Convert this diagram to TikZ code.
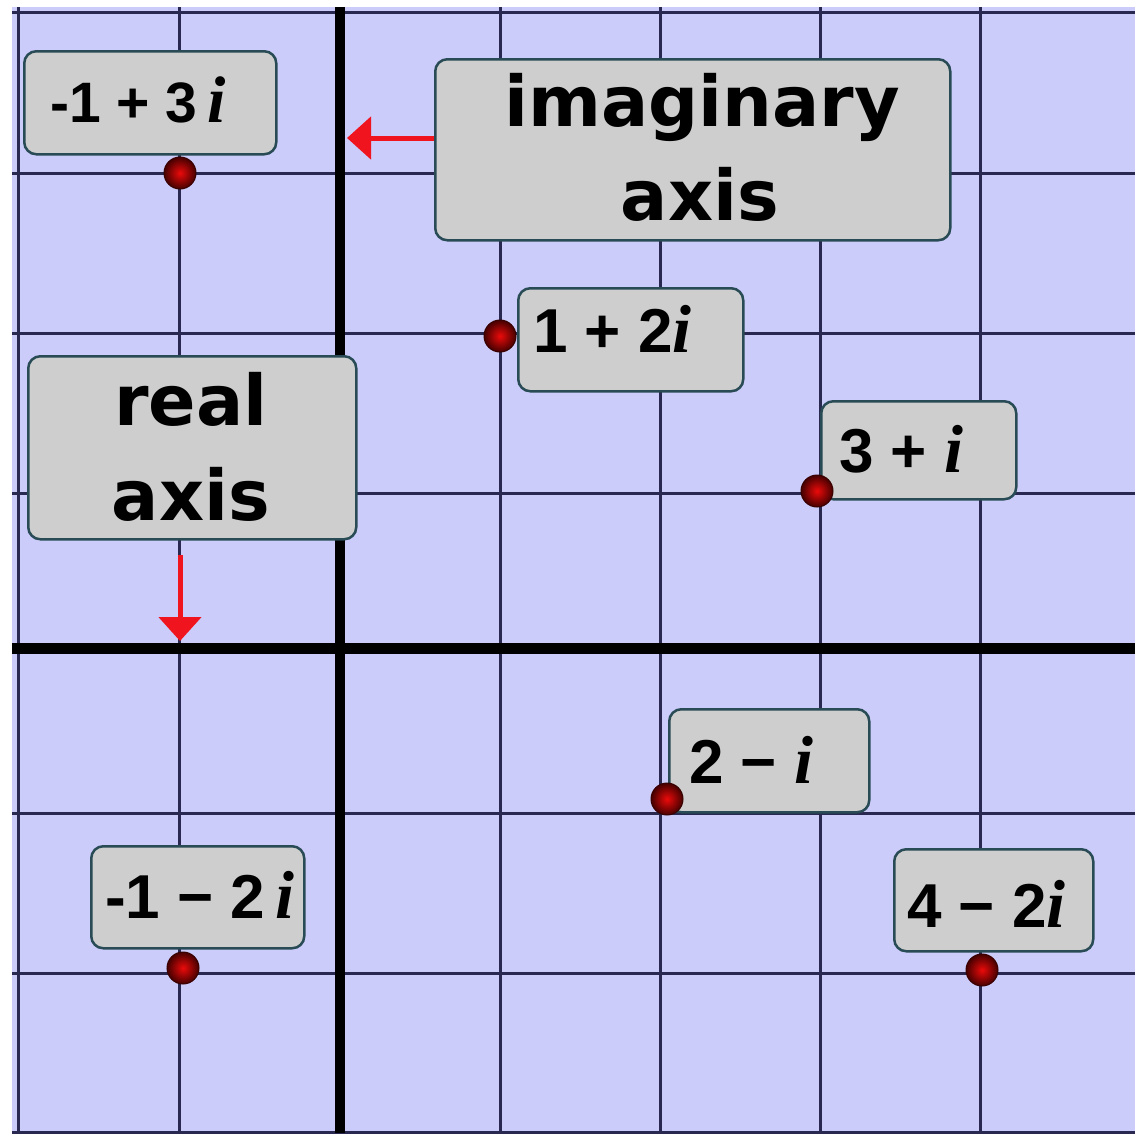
\documentclass[tikz,border=0pt]{standalone}
\usepackage{fontspec}
\usetikzlibrary{arrows.meta,calc}
\newfontfamily\numfont{Liberation Sans}
\newfontfamily\ivarfont{Liberation Serif}
\newfontfamily\axfont{DejaVu Sans}
\definecolor{bgc}{RGB}{204,204,250}
\definecolor{gridc}{RGB}{40,40,80}
\definecolor{boxfill}{RGB}{205,206,205}
\definecolor{boxdraw}{RGB}{40,75,85}
\definecolor{arrred}{RGB}{240,20,30}
\definecolor{dotin}{RGB}{235,10,10}
\definecolor{dotout}{RGB}{70,0,0}
\newcommand\ivar[1]{{\ivarfont\bfseries\itshape\fontsize{#1}{#1}\selectfont i}}
\tikzset{
  gridline/.style={draw=gridc, line width=3pt},
  axisline/.style={draw=black, line width=10pt},
  cbox/.style={draw=boxdraw, fill=boxfill, line width=2.5pt, rounded corners=12pt, inner sep=0pt, anchor=north west},
  lblbig/.style={inner sep=0pt, anchor=base west, font=\numfont\bfseries\fontsize{62}{70}\selectfont},
  lblsmall/.style={inner sep=0pt, anchor=base west, font=\numfont\bfseries\fontsize{57}{64}\selectfont},
  axtext/.style={inner sep=0pt, anchor=base, font=\axfont\bfseries\fontsize{70}{80}\selectfont},
  cdot/.style={circle, minimum size=32pt, inner sep=0pt, shading=radial, inner color=dotin, outer color=dotout, draw=dotout!80!black, line width=1pt},
  redarrow/.style={draw=arrred, line width=5pt, -{Triangle[width=42pt,length=24pt]}}
}
\begin{document}
\begin{tikzpicture}[x=1pt,y=-1pt]
\useasboundingbox (0,0) rectangle (1135,1133);
\fill[bgc] (12,7) rectangle (1135,1133);
% grid
\foreach \gx in {18,179,500,660,820,980} \draw[gridline] (\gx,7) -- (\gx,1133);
\foreach \gy in {12,173,333,493,813,973,1132} \draw[gridline] (12,\gy) -- (1135,\gy);
% axes
\draw[axisline] (340,7) -- (340,1133);
\draw[axisline, line width=11pt] (12,648) -- (1135,648);
% boxes
\node[cbox, minimum width=252pt, minimum height=103pt] (b1) at (23,50) {};
\node[cbox, minimum width=515pt, minimum height=181pt] (imag) at (434,58) {};
\node[cbox, minimum width=225pt, minimum height=103pt] (b2) at (517,287) {};
\node[cbox, minimum width=328pt, minimum height=183pt] (real) at (27,355) {};
\node[cbox, minimum width=195pt, minimum height=98pt] (b3) at (820,400) {};
\node[cbox, minimum width=200pt, minimum height=103pt] (b4) at (668,708) {};
\node[cbox, minimum width=213pt, minimum height=102pt] (b5) at (90,845) {};
\node[cbox, minimum width=199pt, minimum height=102pt] (b6) at (893,848) {};
% labels
\node[lblsmall] (t1) at (50,122) {-1 + 3\,\ivar{66}};
\node[lblbig] (t2) at (533,352) {1 + 2\ivar{68}};
\node[lblbig] (t3) at (839,472) {3 + \ivar{68}};
\node[lblbig] (t4) at (689,783) {2 − \ivar{68}};
\node[lblbig] (t5) at (105,918) {-1 − 2\,\ivar{68}};
\node[lblbig] (t6) at (907,927) {4 − 2\ivar{68}};
\node[axtext] (imag1) at (702,126) {imaginary};
\node[axtext] (imag2) at (700,220) {axis};
\node[axtext] (real1) at (191,425) {real};
\node[axtext] (real2) at (191,520) {axis};
% points
\node[cdot] (p1) at (180,173) {};
\node[cdot] (p2) at (500,336) {};
\node[cdot] (p3) at (817,491) {};
\node[cdot] (p4) at (667,799) {};
\node[cdot] (p5) at (183,968) {};
\node[cdot] (p6) at (982,970) {};
% arrows
\coordinate (ia) at (347,138);
\draw[redarrow] (imag.west |- ia) -- (ia);
\coordinate (ra) at (180,555);
\coordinate (rb) at (180,641);
\draw[redarrow] (ra) -- (rb);
\end{tikzpicture}
\end{document}
